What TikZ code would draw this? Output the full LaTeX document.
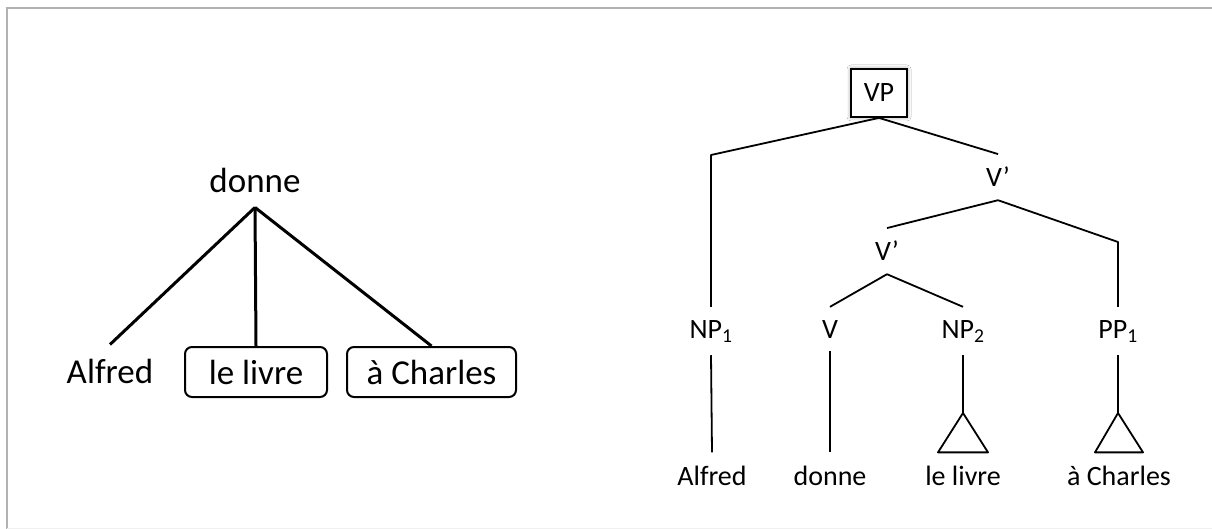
\documentclass[tikz,border=0pt]{standalone}
\usepackage{fontspec}
\setmainfont{Carlito}
\usetikzlibrary{shadows.blur}

\begin{document}
\begin{tikzpicture}[x=1pt,y=-1pt,
	big/.style={font=\fontsize{35}{42}\selectfont, inner xsep=0pt, inner ysep=14pt, anchor=base},
	wordbox/.style={font=\fontsize{35}{42}\selectfont, draw, line width=2pt, rounded corners=7pt, minimum height=50pt, inner sep=0pt},
	cat/.style={font=\fontsize{28}{34}\selectfont, inner xsep=1pt, inner ysep=13pt, anchor=base},
	headbox/.style={draw, line width=1.8pt, fill=white, minimum width=56pt, minimum height=48pt, inner sep=0pt, font=\fontsize{28}{34}\selectfont, blur shadow={shadow xshift=0pt, shadow yshift=0pt, shadow blur radius=4pt, shadow opacity=45}},
	thickbranch/.style={line width=3pt},
	branch/.style={line width=1.8pt, line join=round}]
	\fill[white] (0,0) rectangle (1212,529);
	\useasboundingbox (0,0) rectangle (1212,529);
	\draw[gray!60, line width=1.5pt] (1212,8) -- (7,8) -- (7,529);
	\draw[gray!12] (7,528) -- (1212,528);
	% dependency tree
	\node[big] (donne) at (255,193) {donne};
	\node[big] (alfred) at (110,383) {Alfred};
	\node[wordbox, minimum width=142pt] (livre) at (256,372) {le livre};
	\node[wordbox, minimum width=169pt] (charles) at (431.5,372) {à Charles};
	\draw[thickbranch] (donne.south) -- (alfred.north);
	\draw[thickbranch] (donne.south) -- (livre.north);
	\draw[thickbranch] (donne.south) -- (charles.north);
	% constituent tree
	\node[headbox] (vp) at (879,93) {VP};
	\node[cat] (vbara) at (998,187) {V’};
	\node[cat] (vbarb) at (887,261) {V’};
	\node[cat] (np1) at (711,338) {NP\textsubscript{1}};
	\node[cat] (v) at (830,338) {V};
	\node[cat] (np2) at (963,338) {NP\textsubscript{2}};
	\node[cat] (pp1) at (1118,338) {PP\textsubscript{1}};
	\node[cat] (alfredb) at (712,485) {Alfred};
	\node[cat] (donneb) at (830,485) {donne};
	\node[cat] (livreb) at (963,485) {le livre};
	\node[cat] (charlesb) at (1119,485) {à Charles};
	\coordinate (npbend) at (711,155);
	\coordinate (ppbend) at (1118,242);
	\coordinate (roofa) at (963,413);
	\coordinate (roofb) at (1118,413);
	\draw[branch] (vp.south) -- (npbend) -- (np1.north);
	\draw[branch] (vp.south) -- (vbara.north);
	\draw[branch] (vbara.south) -- (vbarb.north);
	\draw[branch] (vbara.south) -- (ppbend) -- (pp1.north);
	\draw[branch] (vbarb.south) -- (v.north);
	\draw[branch] (vbarb.south) -- (np2.north);
	\draw[branch] (np1.south) -- (alfredb.north);
	\draw[branch] (v.south) -- (donneb.north);
	\draw[branch] (np2.south) -- (roofa);
	\draw[branch] (roofa) -- ([xshift=-25pt]livreb.north) -- ([xshift=25pt]livreb.north) -- cycle;
	\draw[branch] (pp1.south) -- (roofb);
	\draw[branch] (roofb) -- ([xshift=-24pt]charlesb.north) -- ([xshift=24pt]charlesb.north) -- cycle;
\end{tikzpicture}
\end{document}
